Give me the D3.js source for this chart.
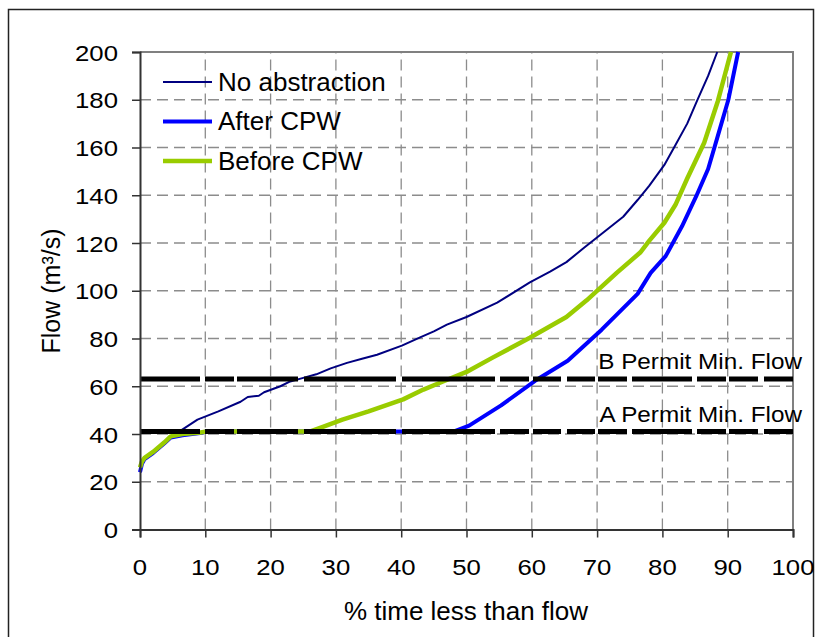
<!DOCTYPE html>
<html>
<head>
<meta charset="utf-8">
<script src="https://cdn.jsdelivr.net/npm/d3@7"></script>
<style>
    body { margin: 0; background: #fff; }
    svg { display: block; font-family: "Liberation Sans", Arial, sans-serif; }
</style>
</head>
<body>
<svg id="chart" width="816" height="637"></svg>
<script>
// % of time flow is lower, flow in m3/s
const noAbstraction = [
    [0, 25], [0.5, 29], [2, 32], [3.5, 36], [5, 39], [6, 41], [8.8, 46], [12, 49.5],
    [15.4, 53.5], [16.5, 55.5], [18.2, 56], [19, 57.5], [21.5, 60], [23, 62], [25, 63.5],
    [27, 65], [29.2, 67.5], [31.7, 69.8], [34, 71.5], [36.3, 73.2], [40.1, 77], [42.9, 80.5],
    [45, 83], [47, 85.8], [50, 89], [54.7, 95], [59.7, 103.5], [62.8, 108], [65.3, 112],
    [68, 118], [71, 124.5], [74, 131], [76.2, 138], [78, 144], [80.3, 152.7], [82, 161],
    [83.8, 170], [85.3, 179.5], [87, 190], [88.4, 200]
]
const afterCPW = [
    [0, 24], [0.3, 27.5], [0.7, 29.5], [2, 32], [3.7, 36], [4.7, 38.5], [6.5, 39.5],
    [9.5, 40.5], [10, 41], [48, 41], [50.4, 43.5], [55.3, 52], [60.5, 62.3], [65.5, 70.7],
    [70.7, 83.7], [74.7, 94.6], [76.2, 98.7], [78.2, 107.5], [80.5, 114.5], [83, 127],
    [85.2, 139.7], [87, 151], [88.5, 165], [90.1, 180], [91.6, 200]
]
const beforeCPW = [
    [0, 26], [0.3, 28.5], [0.7, 30], [2, 32.5], [3.7, 36.4], [4.7, 39], [6.5, 40],
    [9.3, 40.6], [10, 41], [26, 41], [28, 43], [31, 46], [35, 49.5], [40.3, 54.5],
    [43.4, 58.6], [46.4, 62], [50, 66], [54, 72], [59.7, 80.3], [65.3, 89], [68.4, 96],
    [73, 107.5], [76.6, 116], [78, 121], [80.3, 128.5], [82, 136], [83.8, 147],
    [86.4, 162], [88.5, 179.5], [90.5, 200]
]
const seriesNames = ['No abstraction', 'After CPW', 'Before CPW']
const permitLabels = ['B Permit Min. Flow', 'A Permit Min. Flow']
const permitFlows = [63, 41]
const xTicks = [0, 10, 20, 30, 40, 50, 60, 70, 80, 90, 100]
const yTicks = [0, 20, 40, 60, 80, 100, 120, 140, 160, 180, 200]

const svg = d3.select('#chart')

const x = d3.scaleLinear().domain([0, 100]).range([140, 793])
const y = d3.scaleLinear().domain([0, 200]).range([529.5, 52])

const STYLES = [
    { color: '#000080', width: 2 },
    { color: '#0000ff', width: 4 },
    { color: '#99cc00', width: 4.5 }
]
const PERMIT_DASH = '60,5,29,3,61,6,92,6,93,5,29,4,28,6,28,3,29,5,60,5,29,3,29,6,29'

// stretched text, the original graphic is a bit wider than tall
const label = (g, tx, ty, str, size, stretch, anchor) => {
    return g.append('text')
        .attr('transform', 'translate(' + tx + ',' + ty + ') scale(' + stretch + ',1)')
        .attr('text-anchor', anchor)
        .style('font-size', size + 'px')
        .attr('fill', '#000')
        .text(str)
}

// outer frame
svg.append('rect')
    .attr('x', 8.5).attr('y', 9.5)
    .attr('width', 805).attr('height', 640)
    .attr('fill', '#fff')
    .attr('stroke', '#222')
    .attr('stroke-width', 1.5)

// grid
svg.append('g')
    .selectAll('line')
    .data(xTicks.slice(1, -1))
    .enter().append('line')
    .attr('x1', d => x(d)).attr('x2', d => x(d))
    .attr('y1', y(0)).attr('y2', y(200))
    .attr('stroke', '#8c8c8c')
    .attr('stroke-width', 1.3)
    .attr('stroke-dasharray', '11,6')

svg.append('g')
    .selectAll('line')
    .data(yTicks.slice(1, -1))
    .enter().append('line')
    .attr('x1', x(0)).attr('x2', x(100))
    .attr('y1', d => y(d)).attr('y2', d => y(d))
    .attr('stroke', '#8c8c8c')
    .attr('stroke-width', 1.3)
    .attr('stroke-dasharray', '11,6')

// plot border top / right
svg.append('path')
    .attr('d', 'M' + x(0) + ',' + y(200) + 'H' + x(100) + 'V' + y(0))
    .attr('fill', 'none')
    .attr('stroke', '#808080')
    .attr('stroke-width', 2)

// series
const line = d3.line()
    .x(d => x(d[0]))
    .y(d => y(d[1]))

const allSeries = [noAbstraction, afterCPW, beforeCPW]

svg.append('g')
    .selectAll('path')
    .data(allSeries)
    .enter().append('path')
    .attr('d', line)
    .attr('fill', 'none')
    .attr('stroke', (d, i) => STYLES[i].color)
    .attr('stroke-width', (d, i) => STYLES[i].width)
    .attr('stroke-linejoin', 'round')

// permit lines
svg.append('g')
    .selectAll('line')
    .data(permitFlows)
    .enter().append('line')
    .attr('x1', x(0)).attr('x2', x(100))
    .attr('y1', d => y(d)).attr('y2', d => y(d))
    .attr('stroke', '#000')
    .attr('stroke-width', 5)
    .attr('stroke-dasharray', PERMIT_DASH)

permitLabels.forEach((t, i) => {
    label(svg, 802, y(permitFlows[i]) - 10, t, 21.5, 1.13, 'end')
})

// axes
const yAxis = svg.append('g')
    .attr('transform', 'translate(' + x(0) + ',0)')
    .call(d3.axisLeft(y).tickValues(yTicks).tickSize(8).tickFormat(''))
const xAxis = svg.append('g')
    .attr('transform', 'translate(0,' + y(0) + ')')
    .call(d3.axisBottom(x).tickValues(xTicks).tickSize(8).tickFormat(''))

;[yAxis, xAxis].forEach(a => {
    a.select('.domain').attr('stroke', '#333').attr('stroke-width', 2)
    a.selectAll('.tick line').attr('stroke', '#333').attr('stroke-width', 1.5)
})

yTicks.forEach(v => {
    label(svg, 118, y(v) + 8.5, v, 23, 1.12, 'end')
})
xTicks.forEach(v => {
    label(svg, x(v), 575, v, 23, 1.12, 'middle')
})

// axis titles
svg.append('text')
    .attr('transform', 'translate(60,291) rotate(-90)')
    .attr('text-anchor', 'middle')
    .style('font-size', '25px')
    .text('Flow (m³/s)')

svg.append('text')
    .attr('x', 466)
    .attr('y', 620)
    .attr('text-anchor', 'middle')
    .style('font-size', '26px')
    .text('% time less than flow')

// legend
const legend = svg.append('g')
    .selectAll('g')
    .data(seriesNames)
    .enter().append('g')
    .attr('transform', (d, i) => 'translate(163,' + (82 + i * 39.5) + ')')

legend.append('line')
    .attr('x1', 0).attr('x2', 49)
    .attr('stroke', (d, i) => STYLES[i].color)
    .attr('stroke-width', (d, i) => STYLES[i].width)

legend.append('text')
    .attr('x', 55)
    .attr('y', 8.5)
    .style('font-size', '26px')
    .text(d => d)
</script>
</body>
</html>
